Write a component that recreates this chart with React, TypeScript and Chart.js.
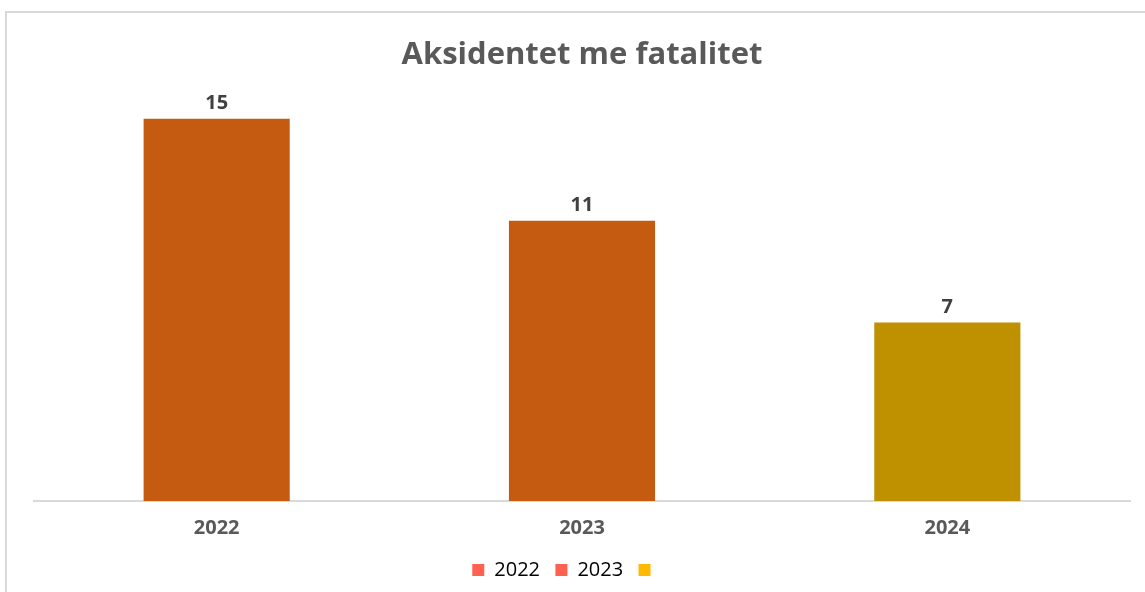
import React, { useEffect, useRef } from "react";
import { Chart, registerables } from "chart.js";

Chart.register(...registerables);

const categories = ["2022", "2023", "2024"];
const values = [15, 11, 7];
const barColors = ["#C55A11", "#C55A11", "#BF9000"];
const legendTexts = ["2022  ", "2023  ", "      "];
const legendColors = ["#FF6150", "#FF6150", "#FFB900"];
const chartTitle = "Aksidentet me fatalitet";

const FONT = "'Open Sans', 'Noto Sans', sans-serif";

const dataLabelPlugin = {
  id: "dataLabels",
  afterDatasetsDraw(chart: any) {
    const ctx = chart.ctx;
    const meta = chart.getDatasetMeta(0);
    ctx.save();
    ctx.font = `bold 20px ${FONT}`;
    ctx.fillStyle = "#404040";
    ctx.textAlign = "center";
    ctx.textBaseline = "bottom";
    meta.data.forEach((bar: any, i: number) => {
      ctx.fillText(String(chart.data.datasets[0].data[i]), bar.x, bar.y - 5);
    });
    ctx.restore();
  },
};

export default function App() {
  const ref = useRef<HTMLCanvasElement | null>(null);
  useEffect(() => {
    if (!ref.current) return;
    const chart = new Chart(ref.current, {
      type: "bar",
      data: {
        labels: categories,
        datasets: [
          {
            data: values,
            backgroundColor: barColors,
            categoryPercentage: 0.4,
            barPercentage: 1,
          },
        ],
      },
      options: {
        animation: false,
        responsive: false,
        maintainAspectRatio: false,
        layout: { padding: { left: 34, right: 15, top: 37, bottom: 2 } },
        scales: {
          x: {
            grid: { display: false, drawTicks: false },
            border: { display: true, color: "#D9D9D9", width: 2 },
            ticks: {
              color: "#595959",
              font: { family: FONT, size: 20, weight: "bold", lineHeight: 1.2 },
              padding: 15,
            },
          },
          y: {
            display: false,
            min: 0,
            max: 16,
          },
        },
        plugins: {
          title: {
            display: true,
            text: chartTitle,
            color: "#595959",
            font: { family: FONT, size: 31, weight: "bold" },
            padding: { top: 0, bottom: 19 },
          },
          legend: {
            position: "bottom",
            onClick: () => {},
            labels: {
              boxWidth: 12,
              boxHeight: 12,
              padding: 5,
              color: "#595959",
              font: { family: FONT, size: 20 },
              generateLabels: () =>
                legendTexts.map((t, i) => ({
                  text: t,
                  fillStyle: legendColors[i],
                  strokeStyle: legendColors[i],
                  lineWidth: 0,
                  hidden: false,
                  datasetIndex: 0,
                })),
            },
          },
          tooltip: { enabled: false },
        },
      },
      plugins: [dataLabelPlugin],
    });
    return () => chart.destroy();
  }, []);

  return (
    <div style={{ position: "fixed", left: 0, top: 0, width: 1145, height: 592, background: "#fff", overflow: "hidden" }}>
      <div
        style={{
          position: "absolute",
          left: 5,
          top: 11,
          width: 1200,
          height: 700,
          border: "2px solid #D9D9D9",
          boxSizing: "border-box",
        }}
      />
      <canvas ref={ref} width={1145} height={592} style={{ position: "absolute", left: 0, top: 0 }} />
    </div>
  );
}
